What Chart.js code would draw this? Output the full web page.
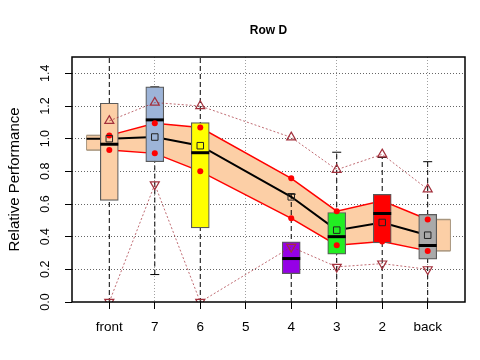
<!DOCTYPE html>
<html><head><meta charset="utf-8">
<script src="https://cdn.jsdelivr.net/npm/chart.js@4/dist/chart.umd.min.js"></script>
<style>html,body{margin:0;padding:0;background:#fff}#wrap{width:480px;height:360px}</style>
</head><body><div id="wrap"><canvas id="c" width="480" height="360"></canvas></div>
<script>
// ---- data ----
const categories = ['front','7','6','5','4','3','2','back'];
const yTicks = [0,0.2,0.4,0.6,0.8,1.0,1.2,1.4];
const bandUpper = [1.02,1.094,1.068,null,0.757,0.556,0.62,0.505];
const bandLower = [0.93,0.91,0.80,null,0.512,0.348,0.37,0.313];
const centre    = [1.0,1.01,0.957,null,0.644,0.44,0.487,0.409];
const boxLow    = [0.622,0.859,0.454,null,0.174,0.293,0.362,0.262];
const boxHigh   = [1.217,1.317,1.098,null,0.368,0.548,0.659,0.536];
const boxMedian = [0.966,1.115,0.914,null,0.266,0.40,0.542,0.346];
const whiskerLow  = [-0.3,0.168,-0.3,null,-0.3,-0.3,-0.3,-0.3];
const whiskerHigh = [1.8,1.317,1.8,null,0.66,0.917,0.885,0.859];
const upTri   = [1.109,1.221,1.20,null,1.008,0.81,0.904,0.69];
const downTri = [0.0,0.72,0.0,null,0.337,0.215,0.235,0.20];
const boxColors = ['#FCCFA6','#9DB4D8','#FFFF00',null,'#9500E6','#22EE22','#FF0000','#A9A9A9'];

const FONT = "'Liberation Sans', Arial, Helvetica, sans-serif";
const pts = arr => arr.map((v,i)=> v==null?null:{x:i+1,y:v}).filter(Boolean);
const bandPts = arr => { const p = pts(arr); return [{x:0.5,y:p[0].y}, ...p, {x:8.5,y:p[p.length-1].y}]; };
const n = categories.length;

const datasets = [];
// ribbon
const tan = '#A8967E';
const edgeSeg = {borderColor: c => (c.p0.parsed.x < 1 || c.p1.parsed.x > 8) ? tan : '#FF0000'};
datasets.push({type:'line', data: bandPts(bandUpper), borderColor:'#FF0000', borderWidth:1.5, segment: edgeSeg,
  pointRadius:0, fill:'+1', backgroundColor:'#FCCFA6', order:100});
datasets.push({type:'line', data: bandPts(bandLower), borderColor:'#FF0000', borderWidth:1.5, segment: edgeSeg,
  pointRadius:0, fill:false, order:99});
// ribbon end edges
const uP = pts(bandUpper), lP = pts(bandLower);
datasets.push({type:'line', data:[{x:0.5,y:lP[0].y},{x:0.5,y:uP[0].y}], borderColor:tan, borderWidth:1, pointRadius:0, order:98});
datasets.push({type:'line', data:[{x:8.5,y:lP[lP.length-1].y},{x:8.5,y:uP[uP.length-1].y}], borderColor:tan, borderWidth:1, pointRadius:0, order:98});
// centre line
const cP = pts(centre);
datasets.push({type:'line', data:[{x:0.5,y:cP[0].y}, ...cP], borderColor:'#000', borderWidth:2, pointRadius:0, order:97});
// whiskers
for (let i=0;i<n;i++) {
  if (whiskerLow[i]==null) continue;
  datasets.push({type:'line', data:[{x:i+1,y:whiskerLow[i]},{x:i+1,y:whiskerHigh[i]}],
    borderColor:'#000', borderWidth:1, borderDash:[5,3], pointRadius:0, order:90});
}
// caps
const caps = [];
for (let i=0;i<n;i++) {
  if (whiskerLow[i]==null) continue;
  [whiskerLow[i], whiskerHigh[i]].forEach(v => { if (v>=0 && v<=1.5) caps.push({x:i+1,y:v}); });
}
datasets.push({type:'scatter', data:caps, pointStyle:'line', pointRadius:4.5, borderColor:'#000', pointBorderWidth:1, order:89});
// boxes
const boxData = [], boxBg = [];
for (let i=0;i<n;i++) { if (boxLow[i]==null) continue; boxData.push({x:i+1,y:[boxLow[i],boxHigh[i]]}); boxBg.push(boxColors[i]); }
datasets.push({type:'bar', data:boxData, backgroundColor:boxBg, borderColor:'#5a5a5a', borderWidth:1.2,
  borderSkipped:false, barThickness:18, order:80});
// medians
datasets.push({type:'scatter', data:pts(boxMedian), pointStyle:'line', pointRadius:9, borderColor:'#000', pointBorderWidth:3, order:79});
// red dots on ribbon edges
datasets.push({type:'scatter', data:[...pts(bandUpper), ...pts(bandLower)], pointRadius:3, backgroundColor:'#FF0000', borderWidth:0, order:70});
// squares
datasets.push({type:'scatter', data:cP, pointStyle:'rect', pointRadius:4.6, backgroundColor:'rgba(0,0,0,0)', borderColor:'#222', pointBorderWidth:1, order:69});
// triangles
datasets.push({type:'line', data:pts(upTri), borderColor:'rgba(165,45,55,0.7)', borderWidth:1, borderDash:[2,2],
  pointStyle:'triangle', pointRadius:5.2, pointBackgroundColor:'rgba(0,0,0,0)', pointBorderColor:'#A3303C', pointBorderWidth:1.2, order:60});
datasets.push({type:'line', data:pts(downTri), borderColor:'rgba(165,45,55,0.7)', borderWidth:1, borderDash:[2,2],
  pointStyle:'triangle', pointRotation:180, pointRadius:5.2, pointBackgroundColor:'rgba(0,0,0,0)', pointBorderColor:'#A3303C', pointBorderWidth:1.2, order:59});

const framePlugin = {
  id:'frame',
  afterDraw(chart){
    const a = chart.chartArea, ctx = chart.ctx;
    ctx.save(); ctx.strokeStyle='#000'; ctx.lineWidth=1.5;
    ctx.strokeRect(a.left, a.top, a.right-a.left, a.bottom-a.top);
    ctx.restore();
  }
};

new Chart(document.getElementById('c'), {
  type:'scatter',
  data:{datasets},
  plugins:[framePlugin],
  options:{
    responsive:false, animation:false, events:[],
    layout:{padding:{left:0,right:15,top:0,bottom:0}},
    plugins:{
      legend:{display:false}, tooltip:{enabled:false},
      title:{display:true, text:'Row D', fullSize:false, color:'#000',
        font:{family:FONT, size:12, weight:'bold'}, padding:{top:23,bottom:19.6}}
    },
    scales:{
      x:{type:'linear', min:0.18, max:8.82, offset:false,
        afterBuildTicks: s => { s.ticks = categories.map((c,i)=>({value:i+1})); },
        afterFit: s => { s.height = 58; },
        ticks:{callback: v => categories[v-1], autoSkip:false, maxRotation:0, minRotation:0,
          color:'#000', font:{family:FONT, size:13.5}, padding:10},
        grid:{offset:false, color: c => (c.tick && c.tick.value % 2 === 0) ? '#a0a0a0' : 'rgba(0,0,0,0)',
          tickColor:'#000', tickLength:7, lineWidth:1, tickBorderDash:[]},
        border:{display:false, dash:[1,2]}
      },
      y:{type:'linear', min:0, max:1.5,
        afterBuildTicks: s => { s.ticks = yTicks.map(v=>({value:v})); },
        afterFit: s => { s.width = 72; },
        ticks:{callback: v => Number(v).toFixed(1), minRotation:90, maxRotation:90, crossAlign:'center',
          color:'#000', font:{family:FONT, size:12.5}, padding:11},
        grid:{color: c => (c.tick && c.tick.value === 0) ? 'rgba(0,0,0,0)' : '#666',
          tickColor:'#000', tickLength:7, lineWidth:1, tickBorderDash:[]},
        border:{display:false, dash:[1,2]},
        title:{display:true, text:'Relative Performance', color:'#000', font:{family:FONT, size:15}, padding:{top:6,bottom:0}}
      }
    }
  }
});
</script></body></html>
